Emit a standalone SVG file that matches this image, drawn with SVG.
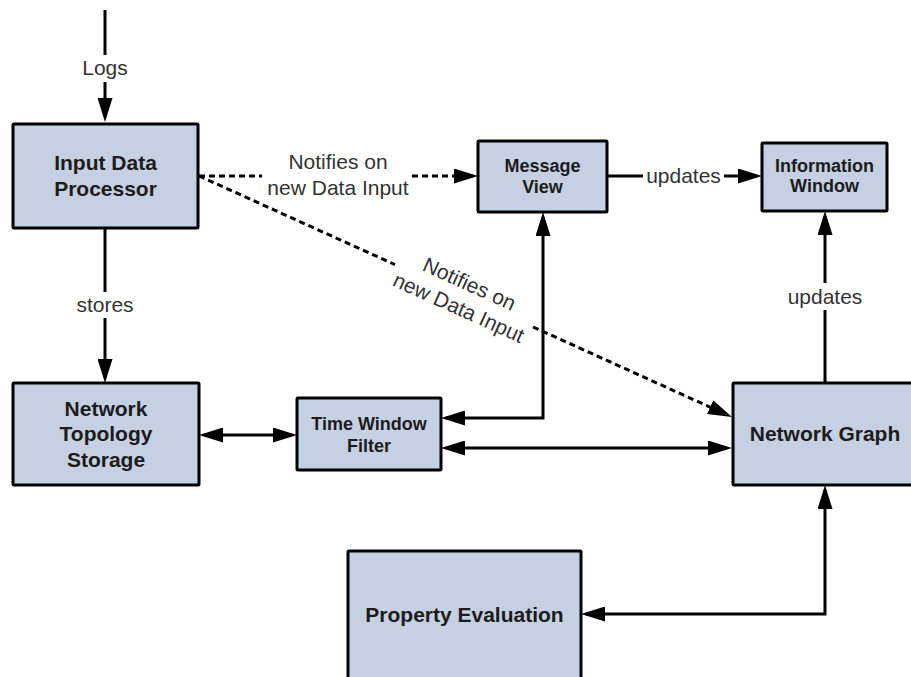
<svg xmlns="http://www.w3.org/2000/svg" width="911" height="677" viewBox="0 0 911 677">
<style>
.box{fill:#c5d0e2;stroke:#000;stroke-width:3}
.nt{font-family:"Liberation Sans",Arial,sans-serif;font-weight:bold;fill:#1c1c1c;text-anchor:middle}
.big{font-size:21px}
.small{font-size:18px}
.lbl{font-family:"Liberation Sans",Arial,sans-serif;font-size:21px;fill:#333;text-anchor:middle}
.ln{fill:none;stroke:#000;stroke-width:3}
.dash{stroke-dasharray:6 4}
.arr{marker-end:url(#ah)}
.arr2{marker-start:url(#ah);marker-end:url(#ah)}
</style>
<defs>
<marker id="ah" markerUnits="userSpaceOnUse" markerWidth="24" markerHeight="15" refX="19" refY="7.5" orient="auto-start-reverse">
<path d="M0,0 L24,7.5 L0,15 z" fill="#000"/>
</marker>
</defs>
<rect width="911" height="677" fill="#fff"/>
<g id="connectors">
<path class="ln" d="M105,10 L105,55"/>
<path class="ln arr" d="M105,82 L105,117"/>
<text class="lbl" x="105" y="75">Logs</text>
<path class="ln" d="M105,229 L105,292"/>
<path class="ln arr" d="M105,318 L105,378"/>
<text class="lbl" x="105" y="312">stores</text>
<path class="ln dash" d="M199,176 L262,176"/>
<path class="ln dash arr" d="M412,176 L473,176"/>
<text class="lbl" x="338" y="169">Notifies on</text>
<text class="lbl" x="338" y="195">new Data Input</text>
<path class="ln" d="M607,176 L643,176"/>
<path class="ln arr" d="M724,176 L757,176"/>
<text class="lbl" x="683.5" y="183">updates</text>
<path class="ln" d="M825,383 L825,310"/>
<path class="ln arr" d="M825,283 L825,216"/>
<text class="lbl" x="825" y="304">updates</text>
<path class="ln dash" d="M199,176 L395,264.6"/>
<path class="ln dash arr" d="M533,327 L727.4,414.9"/>
<g transform="translate(464,296) rotate(24.33)">
<text class="lbl" x="0" y="-6">Notifies on</text>
<text class="lbl" x="0" y="20">new Data Input</text>
</g>
<path class="ln arr2" d="M543,217 L543,418 L446,418"/>
<path class="ln arr2" d="M446,448 L727,448"/>
<path class="ln arr2" d="M204,435 L292,435"/>
<path class="ln arr2" d="M825,490 L825,614 L586,614"/>
</g>
<g id="input-data-processor">
<rect class="box" x="13" y="124" width="185" height="104" rx="1"/>
<text class="nt big" x="105.5" y="169.5">Input Data</text>
<text class="nt big" x="105.5" y="195.5">Processor</text>
</g>
<g id="network-topology-storage">
<rect class="box" x="13" y="383" width="186" height="102" rx="1"/>
<text class="nt big" x="106" y="415.5">Network</text>
<text class="nt big" x="106" y="440.5">Topology</text>
<text class="nt big" x="106" y="466.5">Storage</text>
</g>
<g id="message-view">
<rect class="box" x="478" y="141" width="129" height="71" rx="1"/>
<text class="nt small" x="542.5" y="171.5">Message</text>
<text class="nt small" x="542.5" y="192.5">View</text>
</g>
<g id="information-window">
<rect class="box" x="762" y="143" width="125" height="68" rx="1"/>
<text class="nt small" x="824.5" y="171.5">Information</text>
<text class="nt small" x="824.5" y="191.5">Window</text>
</g>
<g id="time-window-filter">
<rect class="box" x="297" y="398" width="144" height="72" rx="1"/>
<text class="nt small" x="369" y="429.5">Time Window</text>
<text class="nt small" x="369" y="451.5">Filter</text>
</g>
<g id="network-graph">
<rect class="box" x="733" y="383" width="185" height="102" rx="1"/>
<text class="nt big" x="825" y="440.5">Network Graph</text>
</g>
<g id="property-evaluation">
<rect class="box" x="348" y="551" width="233" height="140" rx="1"/>
<text class="nt big" x="464.5" y="621.5">Property Evaluation</text>
</g>
</svg>
